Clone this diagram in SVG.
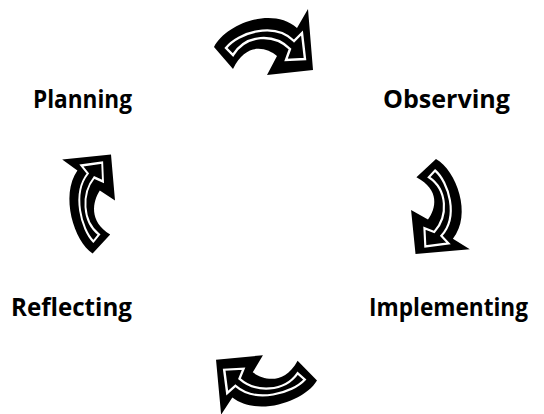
<svg xmlns="http://www.w3.org/2000/svg" width="544" height="414" viewBox="0 0 544 414">
<style>
.lbl{font-family:"Open Sans","Liberation Sans",sans-serif;font-weight:700;font-size:25px;fill:#000}
.outer{fill:#000;stroke:none}
.inner{fill:#000;stroke:#fff;stroke-width:2.4;stroke-linejoin:miter;stroke-miterlimit:10}
</style>
<defs>
<g id="arrow">
<path class="outer" d="M214,47 C226,24 272,6 297,28 L308,9 L313,70 L267,75 L277,56 C266,47 246,42 233,69 Z"/>
<path class="inner" d="M226,48 C238,33 274,21 294,41 L302,33 L305,59 L286,60 L290,49 C274,33 246,34 233,55 Z"/>
</g>
</defs>
<rect width="544" height="414" fill="#fff"/>
<g id="connectors">
<use href="#arrow"/>
<use href="#arrow" transform="translate(440,207) scale(0.89,0.96) rotate(90) translate(-264,-42.5)"/>
<use href="#arrow" transform="translate(266,384.5) scale(1.02,0.9) rotate(180) translate(-264,-42.5)"/>
<use href="#arrow" transform="translate(89,203.5) scale(0.8,1.0) rotate(270) translate(-264,-42.5)"/>
</g>
<g id="planning"><text class="lbl" x="33" y="108" textLength="99" lengthAdjust="spacingAndGlyphs">Planning</text></g>
<g id="observing"><text class="lbl" x="383" y="108" textLength="127" lengthAdjust="spacingAndGlyphs">Observing</text></g>
<g id="implementing"><text class="lbl" x="369" y="316" textLength="159" lengthAdjust="spacingAndGlyphs">Implementing</text></g>
<g id="reflecting"><text class="lbl" x="11" y="316" textLength="121" lengthAdjust="spacingAndGlyphs">Reflecting</text></g>
</svg>
